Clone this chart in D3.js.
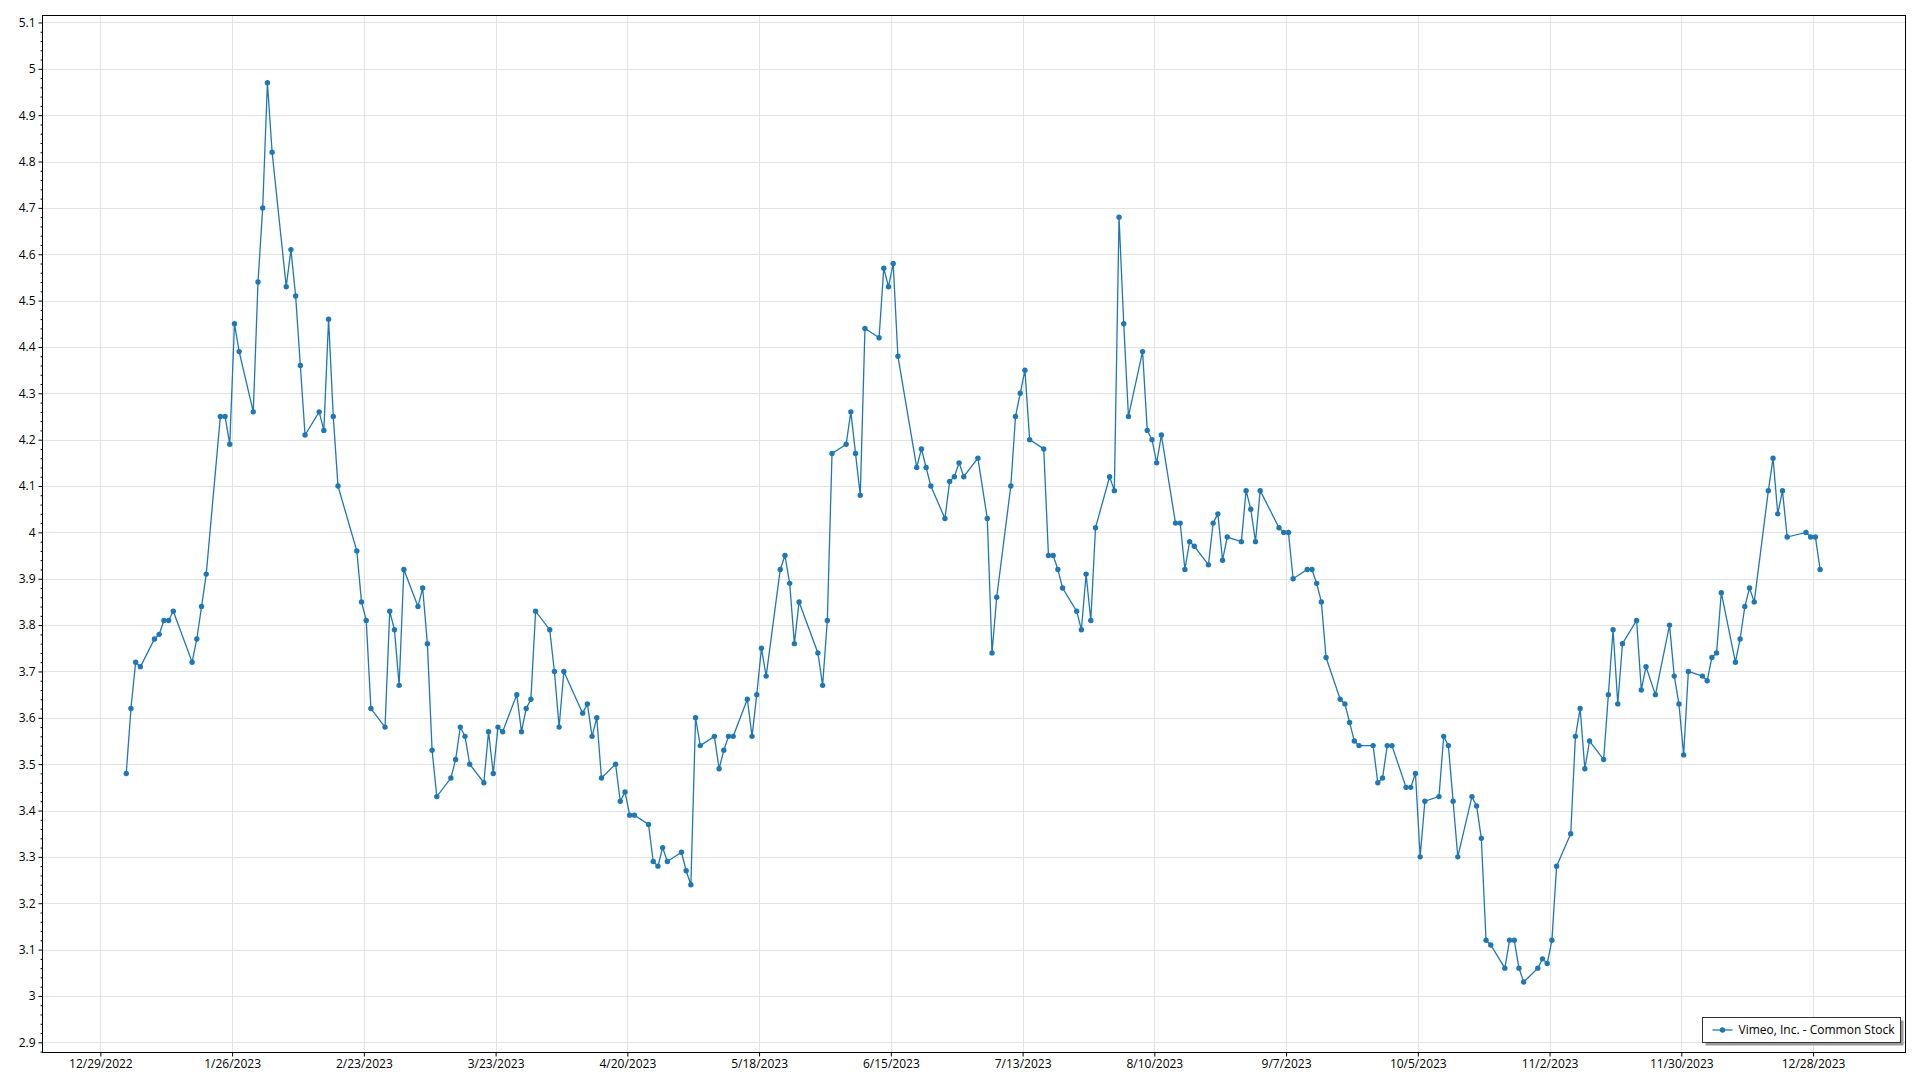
<!DOCTYPE html>
<html><head><meta charset="utf-8">
<script src="https://cdn.jsdelivr.net/npm/d3@7"></script>
<style>
html,body{margin:0;padding:0;background:#fff;}
svg{display:block;font-family:"Segoe UI","Open Sans",sans-serif;}
</style>
</head><body>
<svg id="chart" width="1920" height="1080"></svg>
<script>
const seriesName = "Vimeo, Inc. - Common Stock";
const tradeDates = [
"2023-01-03","2023-01-04","2023-01-05","2023-01-06","2023-01-09","2023-01-10","2023-01-11","2023-01-12","2023-01-13","2023-01-17","2023-01-18","2023-01-19","2023-01-20","2023-01-23","2023-01-24","2023-01-25","2023-01-26","2023-01-27","2023-01-30","2023-01-31",
"2023-02-01","2023-02-02","2023-02-03","2023-02-06","2023-02-07","2023-02-08","2023-02-09","2023-02-10","2023-02-13","2023-02-14","2023-02-15","2023-02-16","2023-02-17","2023-02-21","2023-02-22","2023-02-23","2023-02-24","2023-02-27","2023-02-28",
"2023-03-01","2023-03-02","2023-03-03","2023-03-06","2023-03-07","2023-03-08","2023-03-09","2023-03-10","2023-03-13","2023-03-14","2023-03-15","2023-03-16","2023-03-17","2023-03-20","2023-03-21","2023-03-22","2023-03-23","2023-03-24","2023-03-27","2023-03-28","2023-03-29","2023-03-30","2023-03-31",
"2023-04-03","2023-04-04","2023-04-05","2023-04-06","2023-04-10","2023-04-11","2023-04-12","2023-04-13","2023-04-14","2023-04-17","2023-04-18","2023-04-19","2023-04-20","2023-04-21","2023-04-24","2023-04-25","2023-04-26","2023-04-27","2023-04-28",
"2023-05-01","2023-05-02","2023-05-03","2023-05-04","2023-05-05","2023-05-08","2023-05-09","2023-05-10","2023-05-11","2023-05-12","2023-05-15","2023-05-16","2023-05-17","2023-05-18","2023-05-19","2023-05-22","2023-05-23","2023-05-24","2023-05-25","2023-05-26","2023-05-30","2023-05-31",
"2023-06-01","2023-06-02","2023-06-05","2023-06-06","2023-06-07","2023-06-08","2023-06-09","2023-06-12","2023-06-13","2023-06-14","2023-06-15","2023-06-16","2023-06-20","2023-06-21","2023-06-22","2023-06-23","2023-06-26","2023-06-27","2023-06-28","2023-06-29","2023-06-30",
"2023-07-03","2023-07-05","2023-07-06","2023-07-07","2023-07-10","2023-07-11","2023-07-12","2023-07-13","2023-07-14","2023-07-17","2023-07-18","2023-07-19","2023-07-20","2023-07-21","2023-07-24","2023-07-25","2023-07-26","2023-07-27","2023-07-28","2023-07-31",
"2023-08-01","2023-08-02","2023-08-03","2023-08-04","2023-08-07","2023-08-08","2023-08-09","2023-08-10","2023-08-11","2023-08-14","2023-08-15","2023-08-16","2023-08-17","2023-08-18","2023-08-21","2023-08-22","2023-08-23","2023-08-24","2023-08-25","2023-08-28","2023-08-29","2023-08-30","2023-08-31",
"2023-09-01","2023-09-05","2023-09-06","2023-09-07","2023-09-08","2023-09-11","2023-09-12","2023-09-13","2023-09-14","2023-09-15","2023-09-18","2023-09-19","2023-09-20","2023-09-21","2023-09-22","2023-09-25","2023-09-26","2023-09-27","2023-09-28","2023-09-29",
"2023-10-02","2023-10-03","2023-10-04","2023-10-05","2023-10-06","2023-10-09","2023-10-10","2023-10-11","2023-10-12","2023-10-13","2023-10-16","2023-10-17","2023-10-18","2023-10-19","2023-10-20","2023-10-23","2023-10-24","2023-10-25","2023-10-26","2023-10-27","2023-10-30","2023-10-31",
"2023-11-01","2023-11-02","2023-11-03","2023-11-06","2023-11-07","2023-11-08","2023-11-09","2023-11-10","2023-11-13","2023-11-14","2023-11-15","2023-11-16","2023-11-17","2023-11-20","2023-11-21","2023-11-22","2023-11-24","2023-11-27","2023-11-28","2023-11-29","2023-11-30",
"2023-12-01","2023-12-04","2023-12-05","2023-12-06","2023-12-07","2023-12-08","2023-12-11","2023-12-12","2023-12-13","2023-12-14","2023-12-15","2023-12-18","2023-12-19","2023-12-20","2023-12-21","2023-12-22","2023-12-26","2023-12-27","2023-12-28","2023-12-29"
];
const closePrices = [
3.48,3.62,3.72,3.71,3.77,3.78,3.81,3.81,3.83,3.72,3.77,3.84,3.91,4.25,4.25,4.19,4.45,4.39,4.26,4.54,
4.70,4.97,4.82,4.53,4.61,4.51,4.36,4.21,4.26,4.22,4.46,4.25,4.10,3.96,3.85,3.81,3.62,3.58,3.83,
3.79,3.67,3.92,3.84,3.88,3.76,3.53,3.43,3.47,3.51,3.58,3.56,3.50,3.46,3.57,3.48,3.58,3.57,3.65,3.57,3.62,3.64,3.83,
3.79,3.70,3.58,3.70,3.61,3.63,3.56,3.60,3.47,3.50,3.42,3.44,3.39,3.39,3.37,3.29,3.28,3.32,3.29,
3.31,3.27,3.24,3.60,3.54,3.56,3.49,3.53,3.56,3.56,3.64,3.56,3.65,3.75,3.69,3.92,3.95,3.89,3.76,3.85,3.74,3.67,
3.81,4.17,4.19,4.26,4.17,4.08,4.44,4.42,4.57,4.53,4.58,4.38,4.14,4.18,4.14,4.10,4.03,4.11,4.12,4.15,4.12,
4.16,4.03,3.74,3.86,4.10,4.25,4.30,4.35,4.20,4.18,3.95,3.95,3.92,3.88,3.83,3.79,3.91,3.81,4.01,4.12,
4.09,4.68,4.45,4.25,4.39,4.22,4.20,4.15,4.21,4.02,4.02,3.92,3.98,3.97,3.93,4.02,4.04,3.94,3.99,3.98,4.09,4.05,3.98,
4.09,4.01,4.00,4.00,3.90,3.92,3.92,3.89,3.85,3.73,3.64,3.63,3.59,3.55,3.54,3.54,3.46,3.47,3.54,3.54,
3.45,3.45,3.48,3.30,3.42,3.43,3.56,3.54,3.42,3.30,3.43,3.41,3.34,3.12,3.11,3.06,3.12,3.12,3.06,3.03,3.06,3.08,
3.07,3.12,3.28,3.35,3.56,3.62,3.49,3.55,3.51,3.65,3.79,3.63,3.76,3.81,3.66,3.71,3.65,3.80,3.69,3.63,3.52,
3.70,3.69,3.68,3.73,3.74,3.87,3.72,3.77,3.84,3.88,3.85,4.09,4.16,4.04,4.09,3.99,4.00,3.99,3.99,3.92
];
const xTickLabels = ["12/29/2022","1/26/2023","2/23/2023","3/23/2023","4/20/2023","5/18/2023","6/15/2023","7/13/2023","8/10/2023","9/7/2023","10/5/2023","11/2/2023","11/30/2023","12/28/2023"];
const yTickLabels = ["2.9","3","3.1","3.2","3.3","3.4","3.5","3.6","3.7","3.8","3.9","4","4.1","4.2","4.3","4.4","4.5","4.6","4.7","4.8","4.9","5","5.1"];
const xDomain = ["2022-12-16T16:48:00Z","2024-01-16T15:36:00Z"];
const yDomain = [2.878, 5.115];

const svg = d3.select("#chart");
const P = {left:42.5, right:1905.5, top:15.5, bottom:1052.5};
const parseDay = d3.utcParse("%Y-%m-%d");
const parseTick = d3.utcParse("%m/%d/%Y");
const halfDay = 12*3600*1000;

const x = d3.scaleUtc().domain(xDomain.map(s=>new Date(s))).range([P.left, P.right]);
const y = d3.scaleLinear().domain(yDomain).range([P.bottom, P.top]);

const data = tradeDates.map((d,i)=>({t:new Date(parseDay(d).getTime()+halfDay), v:closePrices[i]}));
const xTicks = xTickLabels.map(s=>parseTick(s));
const yTicks = yTickLabels.map(s=>+s);
const yMinor = d3.range(Math.round(yDomain[0]*50), Math.round(yDomain[1]*50)+1).map(k=>k/50)
  .filter(v=>v>=yDomain[0] && v<=yDomain[1] && Math.abs(v*10-Math.round(v*10))>1e-6);

// gridlines
const grid = svg.append("g").attr("stroke","#e3e3e3").attr("stroke-width",1).attr("shape-rendering","crispEdges");
grid.selectAll("line.h").data(yTicks).join("line").attr("class","h")
  .attr("x1",P.left).attr("x2",P.right).attr("y1",d=>Math.round(y(d))+0.5).attr("y2",d=>Math.round(y(d))+0.5);
grid.selectAll("line.v").data(xTicks).join("line").attr("class","v")
  .attr("y1",P.top).attr("y2",P.bottom).attr("x1",d=>Math.round(x(d))+0.5).attr("x2",d=>Math.round(x(d))+0.5);

// axes
const yAxis = d3.axisLeft(y).tickValues(yTicks).tickSize(4).tickPadding(3)
  .tickFormat((d,i)=>yTickLabels[i]);
const gy = svg.append("g").attr("transform",`translate(${P.left},0)`).call(yAxis);
const yAxisMinor = d3.axisLeft(y).tickValues(yMinor).tickSize(2).tickFormat("");
const gym = svg.append("g").attr("transform",`translate(${P.left},0)`).call(yAxisMinor);
const xAxis = d3.axisBottom(x).tickValues(xTicks).tickSize(4).tickPadding(3)
  .tickFormat((d,i)=>xTickLabels[i]);
const gx = svg.append("g").attr("transform",`translate(0,${P.bottom})`).call(xAxis);
[gy,gym,gx].forEach(g=>{
  g.select(".domain").remove();
  g.selectAll(".tick line").attr("stroke","#000");
  g.selectAll("text").attr("fill","#000").attr("font-size","12px").attr("font-family",'"Segoe UI","Open Sans",sans-serif');
});

// border
svg.append("rect").attr("x",P.left).attr("y",P.top).attr("width",P.right-P.left).attr("height",P.bottom-P.top)
  .attr("fill","none").attr("stroke","#000").attr("stroke-width",1);

// series
const color = "#1f77b4";
const line = d3.line().x(d=>x(d.t)).y(d=>y(d.v));
svg.append("path").datum(data).attr("d",line).attr("fill","none").attr("stroke",color).attr("stroke-width",1.3);
svg.append("g").selectAll("circle").data(data).join("circle")
  .attr("cx",d=>x(d.t)).attr("cy",d=>y(d.v)).attr("r",2.7).attr("fill",color);

// legend
const L = {x:1702.5, y:1017.5, w:198, h:25};
const lg = svg.append("g");
lg.append("rect").attr("x",L.x+3).attr("y",L.y+3).attr("width",L.w).attr("height",L.h).attr("fill","#9a9a9a");
lg.append("rect").attr("x",L.x).attr("y",L.y).attr("width",L.w).attr("height",L.h).attr("fill","#fff").attr("stroke","#333").attr("stroke-width",1);
lg.append("line").attr("x1",L.x+10).attr("x2",L.x+30).attr("y1",L.y+12.5).attr("y2",L.y+12.5).attr("stroke",color).attr("stroke-width",1.3);
lg.append("circle").attr("cx",L.x+20).attr("cy",L.y+12.5).attr("r",2.7).attr("fill",color);
lg.append("text").attr("x",L.x+36).attr("y",L.y+12.5).attr("dy","0.35em").attr("font-size","12px").attr("fill","#000").text(seriesName);
</script>
</body></html>
